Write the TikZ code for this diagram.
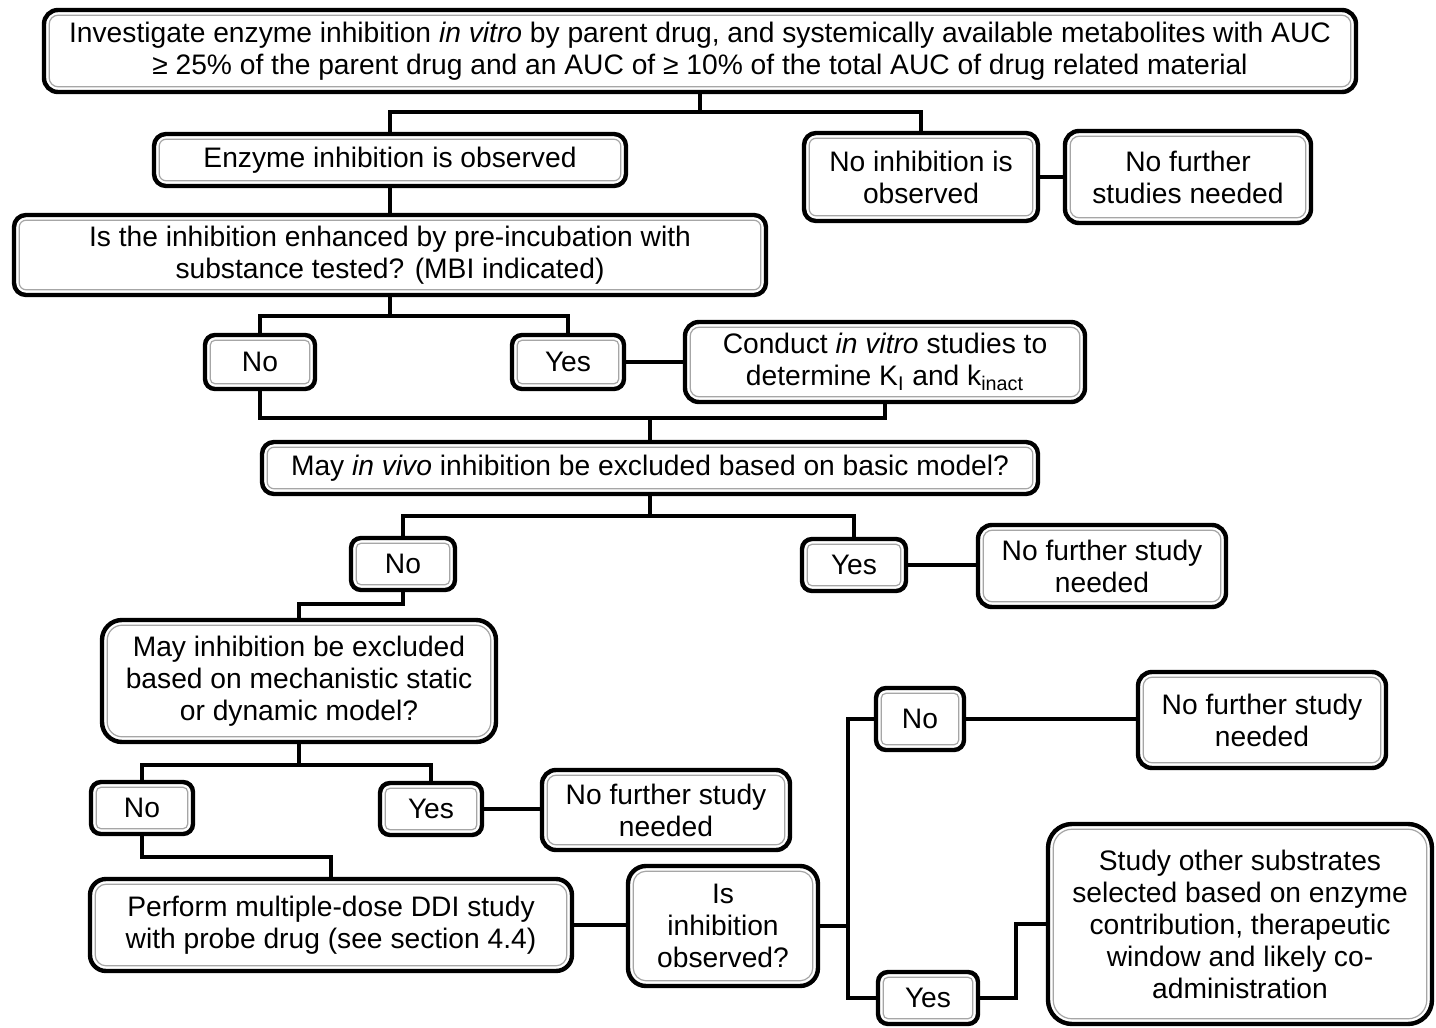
\documentclass[tikz,border=0pt]{standalone}
\usepackage{fontspec}
\setmainfont{Liberation Sans}
\usetikzlibrary{positioning}

\begin{document}
\begin{tikzpicture}
	[x=0.5pt,y=-0.5pt,font=\fontsize{14.1}{16}\selectfont,
	box/.style={draw,line width=2.2pt,fill=white,align=center,inner sep=1pt,
		rounded corners=#1,
		path picture={\draw [gray!70,line width=0.6pt,rounded corners=#1-2.5pt]
			([shift={(2.6pt,2.6pt)}]path picture bounding box.south west) rectangle
			([shift={(-2.6pt,-2.6pt)}]path picture bounding box.north east);}},
	box/.default=5pt,
	link/.style={line width=1.8pt}]
	\useasboundingbox (0,0) rectangle (1436,1028);
	
	\node (top) [box=7pt,minimum width=656pt,minimum height=41pt] at (700,51)
		{Investigate enzyme inhibition \textit{in vitro} by parent drug, and systemically available metabolites with AUC\\
		 ≥ 25\% of the parent drug and an AUC of ≥ 10\% of the total AUC of drug related material};
	\node (obs) [box=6pt,minimum width=236pt,minimum height=26pt] at (390,160) {Enzyme inhibition is observed};
	\node (noobs) [box=6pt,minimum width=117pt,minimum height=44pt] at (921,177) {No inhibition is\\ observed};
	\node (nfs1) [box=7pt,minimum width=123pt,minimum height=46pt] at (1188,177) {No further\\ studies needed};
	\node (enh) [box=6pt,minimum width=376pt,minimum height=40pt] at (390,255)
		{Is the inhibition enhanced by pre-incubation with\\ substance tested? (MBI indicated)};
	
	\node (no1) [box,minimum width=55pt,minimum height=27pt] at (260,362) {No};
	\node (yes1) [box,minimum width=56pt,minimum height=27pt] at (568,362) {Yes};
	\node (cond) [box=7pt,minimum width=200pt,minimum height=40pt] at (885,362)
		{Conduct \textit{in vitro} studies to\\ determine K\textsubscript{I} and k\textsubscript{inact}};
	\node (basic) [box=6pt,minimum width=388pt,minimum height=26pt] at (650,468)
		{May \textit{in vivo} inhibition be excluded based on basic model?};
	
	\node (no2) [box,minimum width=52pt,minimum height=26pt] at (403,564) {No};
	\node (yes2) [box,minimum width=52pt,minimum height=26pt] at (854,565) {Yes};
	\node (nfs2) [box=7pt,minimum width=124pt,minimum height=41pt] at (1102,566) {No further study\\ needed};
	\node (mech) [box=10pt,minimum width=197pt,minimum height=61pt] at (299,681)
		{May inhibition be excluded\\ based on mechanistic static\\ or dynamic model?};
	
	\node (no3) [box,minimum width=51pt,minimum height=26pt] at (142,808) {No};
	\node (yes3) [box,minimum width=51pt,minimum height=26pt] at (431,809) {Yes};
	\node (nfs3) [box=7pt,minimum width=124pt,minimum height=40pt] at (666,810) {No further study\\ needed};
	\node (ddi) [box=8pt,minimum width=241pt,minimum height=46pt] at (331,925)
		{Perform multiple-dose DDI study\\ with probe drug (see section 4.4)};
	\node (isobs) [box=9pt,minimum width=95pt,minimum height=60pt] at (723,926) {Is\\ inhibition\\ observed?};
	
	\node (no4) [box,minimum width=44pt,minimum height=31pt] at (920,719) {No};
	\node (nfs4) [box=7pt,minimum width=124pt,minimum height=48pt] at (1262,720) {No further study\\ needed};
	\node (yes4) [box,minimum width=50pt,minimum height=26pt] at (928,998) {Yes};
	\node (other) [box=12pt,minimum width=192pt,minimum height=100pt] at (1240,924)
		{Study other substrates\\ selected based on enzyme\\ contribution, therapeutic\\ window and likely co-\\ administration};
	
	\coordinate (j1) at (700,112);
	\coordinate (j2) at (390,316);
	\coordinate (j3) at (650,418);
	\coordinate (j4) at (650,516);
	\coordinate (j5) at (299,604);
	\coordinate (j6) at (299,765);
	\coordinate (j7) at (331,857);
	\coordinate (j8) at (848,926);
	\coordinate (j9) at (1016,924);
	
	\draw [link] (top) -- (j1) -| (obs);
	\draw [link] (j1) -| (noobs);
	\draw [link] (noobs) -- (nfs1);
	\draw [link] (obs) -- (enh);
	\draw [link] (enh) -- (j2) -| (no1);
	\draw [link] (j2) -| (yes1);
	\draw [link] (yes1) -- (cond);
	\draw [link] (no1) |- (j3) -- (basic);
	\draw [link] (cond) |- (j3);
	\draw [link] (basic) -- (j4) -| (no2);
	\draw [link] (j4) -| (yes2);
	\draw [link] (yes2) -- (yes2 -| nfs2.west);
	\draw [link] (no2) |- (j5) -- (mech);
	\draw [link] (mech) -- (j6) -| (no3);
	\draw [link] (j6) -| (yes3);
	\draw [link] (yes3) -- (yes3 -| nfs3.west);
	\draw [link] (no3) |- (j7) -- (ddi);
	\draw [link] (ddi) -- (ddi -| isobs.west);
	\draw [link] (isobs) -- (j8) |- (no4);
	\draw [link] (j8) |- (yes4);
	\draw [link] (no4) -- (no4 -| nfs4.west);
	\draw [link] (yes4) -| (j9) -- (other);
\end{tikzpicture}
\end{document}
